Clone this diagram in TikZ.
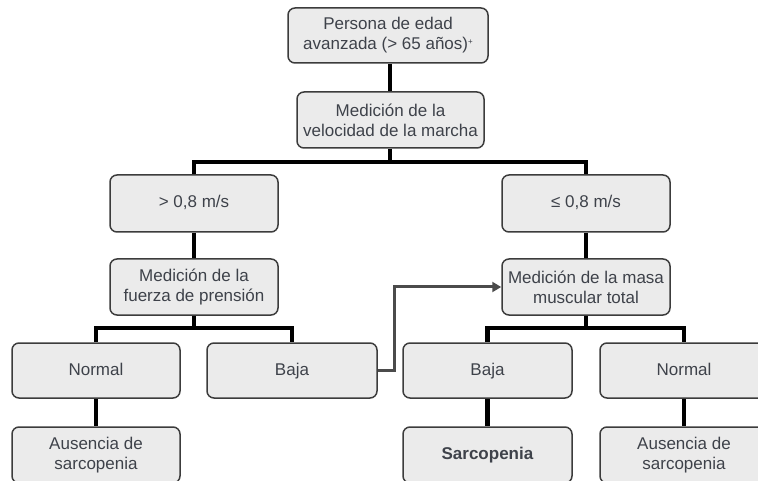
\documentclass[tikz,border=0pt]{standalone}
\usepackage{fontspec}
\setmainfont{Liberation Sans}
\usetikzlibrary{arrows.meta,backgrounds}
\definecolor{boxfill}{RGB}{235,235,235}
\definecolor{boxline}{RGB}{60,60,60}
\definecolor{txt}{RGB}{62,66,74}
\definecolor{arrowgray}{RGB}{75,75,75}
\tikzset{
  box/.style={draw=boxline, fill=boxfill, line width=1.5pt, rounded corners=7pt,
    align=center, text=txt, font=\fontsize{17}{20}\selectfont, inner sep=0pt},
  oneline/.style={text height=12.5pt, text depth=3.5pt},
  tree/.style={draw=black, line width=4.5pt, line join=miter},
  jump/.style={draw=arrowgray, line width=3pt, line join=miter,
    -{Triangle[length=9pt,width=10pt]}}
}
\begin{document}
\begin{tikzpicture}[x=1pt,y=-1pt]
\useasboundingbox (0,0) rectangle (758,481);
\clip (0,0) rectangle (758,481);
% boxes
\node[box, minimum width=200pt, minimum height=55pt] (top) at (388,35.5)
  {Persona de edad\\avanzada (> 65 años)\raisebox{5pt}{\fontsize{8}{8}\selectfont +}};
\node[box, minimum width=187pt, minimum height=56pt] (med) at (390.5,120)
  {Medición de la\\velocidad de la marcha};
\node[box, oneline, minimum width=168pt, minimum height=57pt] (gt) at (194,203.5) {> 0,8 m/s};
\node[box, oneline, minimum width=168pt, minimum height=57pt] (le) at (586,203.5) {≤ 0,8 m/s};
\node[box, minimum width=168pt, minimum height=56pt] (fuerza) at (194,287)
  {Medición de la\\fuerza de prensión};
\node[box, minimum width=168pt, minimum height=56pt] (masa) at (586,287)
  {Medición de la masa\\muscular total};
\node[box, oneline, minimum width=168pt, minimum height=55pt] (normL) at (96,370.5) {Normal};
\node[box, oneline, minimum width=170pt, minimum height=55pt] (bajaL) at (292,370.5) {Baja};
\node[box, oneline, minimum width=169pt, minimum height=55pt] (bajaR) at (487.5,370.5) {Baja};
\node[box, oneline, minimum width=168pt, minimum height=55pt] (normR) at (684,370.5) {Normal};
\node[box, minimum width=168pt, minimum height=56pt] (ausL) at (96,455)
  {Ausencia de\\sarcopenia};
\node[box, oneline, minimum width=169pt, minimum height=56pt] (sarc) at (487.5,455)
  {\textbf{Sarcopenia}};
\node[box, minimum width=168pt, minimum height=56pt] (ausR) at (684,455)
  {Ausencia de\\sarcopenia};
% tree connectors
\begin{scope}[on background layer]
\coordinate (b1) at (390,162);
\coordinate (b2) at (194,328);
\coordinate (b3) at (586,328);
\draw[tree] (top.south -| b1) -- (med.north -| b1);
\draw[tree] (med.south -| b1) -- (b1);
\draw[tree] (gt.north) |- (b1) -| (le.north);
\draw[tree] (gt.south) -- (fuerza.north);
\draw[tree] (le.south) -- (masa.north);
\draw[tree] (fuerza.south) -- (b2);
\draw[tree] (normL.north) |- (b2) -| (bajaL.north);
\draw[tree] (masa.south) -- (b3);
\draw[tree] (bajaR.north) |- (b3) -| (normR.north);
\draw[tree] (normL.south) -- (ausL.north);
\draw[tree] (bajaR.south) -- (sarc.north);
\draw[tree] (normR.south) -- (ausR.north);
\end{scope}
% gray arrow
\coordinate (k1) at (394,370);
\coordinate (k2) at (394,287);
\draw[jump] (bajaL.east |- k1) -- (k1) -- (k2) -- (masa.west);
\end{tikzpicture}
\end{document}
